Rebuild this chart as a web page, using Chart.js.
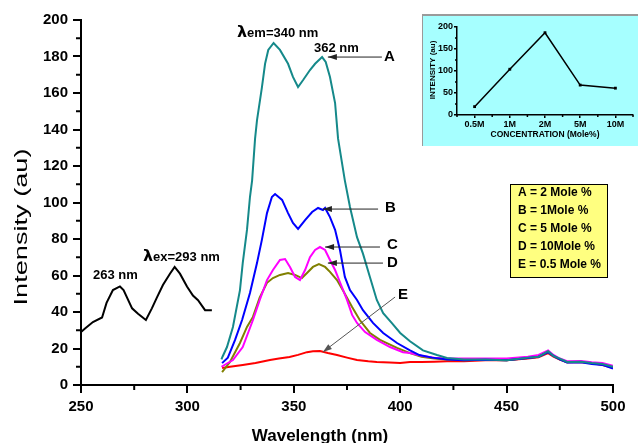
<!DOCTYPE html>
<html>
<head>
<meta charset="utf-8">
<script src="https://cdn.jsdelivr.net/npm/chart.js@4.4.0/dist/chart.umd.min.js"></script>
<style>
  html, body { margin: 0; padding: 0; background: #fff; }
  #wrap { position: relative; width: 638px; height: 443px; overflow: hidden; }
  #main { position: absolute; left: 0; top: 0; }
  #insetBox { position: absolute; left: 422px; top: 14px; width: 216px; height: 130px;
              background: #a6ffff; border-top: 2px solid #9a9a9a; border-left: 1px solid #9a9a9a; }
  #inset { position: absolute; left: 0; top: 0; }
</style>
</head>
<body>
<div id="wrap">
  <canvas id="main" width="638" height="443"></canvas>
  <div id="insetBox"><canvas id="inset" width="216" height="130"></canvas></div>
</div>
<script>
// excitation spectrum (black)
const wlEx  = [250, 251.9, 255.6, 259.9, 262, 265, 268.3, 270, 274, 276.8, 280.5, 283.3, 285.7, 288.5, 291.8, 294, 296.5, 299.8, 302.6, 305, 308.3, 311.5]
const intEx = [29, 31, 34.5, 37, 45, 52, 54, 52, 42, 39, 35.6, 42, 48, 54.8, 61, 64.7, 61, 54, 49, 46.5, 41, 41]

// emission A = 2 Mole %
const wlA  = [316, 316.5, 318.6, 321.4, 324.7, 326, 328, 329.4, 330.4, 331.8, 332.7, 335, 336.5, 338, 340.5, 343.5, 347.3, 349.6, 352, 354.3, 357.6, 360, 363.3, 365, 367, 369.4, 370.8, 374, 376.4, 379.7, 382.5, 385.8, 389, 392, 396, 400, 404.6, 410.7, 417.3, 422, 430, 440, 450, 460, 465, 469.5, 472, 475, 478.4, 485, 490, 495, 500]
const intA = [14, 15.5, 20.8, 31.8, 52, 66.8, 85, 103, 112, 135, 145, 163, 176, 183.6, 187.4, 183.6, 176, 168.8, 163.3, 167, 172.6, 176, 179.7, 177, 168.8, 154.5, 135, 112, 97.5, 81, 72, 59, 46.6, 39.4, 34, 28.5, 24, 19, 16.4, 14.8, 14, 14, 13.5, 15, 15.5, 18.5, 16, 14.5, 12.6, 12.8, 12, 11.5, 10]

// emission B = 1 Mole %
const wlB  = [316.3, 319, 322.4, 325.7, 329.4, 332.7, 335, 337.4, 339.7, 341.2, 344.5, 347.3, 349.6, 352, 355.3, 358.6, 361.4, 363.7, 364.7, 367, 369.4, 371.7, 374, 376.4, 379.7, 382.5, 387.2, 392, 398.5, 404.6, 409, 415, 422, 430, 440, 450, 460, 465, 469.5, 472, 475, 478.4, 485, 490, 495, 500]
const intB = [12, 15, 24.7, 35.6, 50.4, 66.8, 79.5, 94.2, 103, 104.6, 101.4, 94.2, 88.8, 85.5, 90.4, 94.8, 97, 95.9, 97, 92, 85, 74, 59.2, 52, 46.6, 41, 34, 28.5, 23, 19, 16.4, 15, 14, 13.5, 13.8, 13.5, 14.8, 15.5, 18, 16, 14, 12.3, 12.5, 11.5, 11, 9]

// emission C = 5 Mole %
const wlC  = [316, 321.4, 326, 330.8, 334, 337.4, 340.2, 343.5, 345.9, 348.2, 350.6, 352.9, 355.3, 357.6, 360, 362.3, 364.7, 367, 369.4, 372.6, 375, 377.4, 379.7, 383.5, 389, 395.2, 401.3, 404.6, 410, 416, 422, 430, 440, 450, 460, 465, 469.5, 472, 475, 478.4, 485, 490, 495, 500]
const intC = [10, 13.7, 20.8, 35.6, 46.6, 57.5, 63, 68.5, 69, 64.7, 59.2, 57.5, 63, 70, 74, 75.6, 74, 68.5, 63, 53.7, 46.6, 38.4, 34, 29, 24.7, 20.8, 18, 17.5, 16, 15, 14.5, 14.5, 14.5, 14.5, 15.5, 16.5, 19, 16.5, 14.5, 13, 13.2, 12.5, 12, 10.5]

// emission D = 10 Mole %
const wlD  = [316.3, 320, 324.7, 328, 330.8, 334, 337.4, 340.2, 343.5, 347.3, 350.6, 353.8, 356.2, 359, 361.8, 364.7, 367, 370.3, 373, 377.4, 381, 385.8, 390.5, 398.5, 404.6, 410, 416, 422, 430, 440, 450, 460, 465, 469.5, 472, 475, 478.4, 485, 490, 495, 500]
const intD = [7, 12.6, 23, 31.8, 37.3, 48, 56, 58.6, 60.3, 61.4, 60.3, 58.6, 61.4, 64.7, 66.3, 64.7, 62, 57.5, 52, 42.7, 35.6, 28.5, 24.7, 20.3, 17.5, 15.5, 14.5, 14, 13.5, 13.8, 13.5, 14.8, 15.5, 18, 16, 14, 12.5, 12.8, 12, 11.5, 10]

// emission E = 0.5 Mole %
const wlE  = [316.3, 320, 326, 332, 338.8, 343, 348, 352, 356.2, 359, 362.3, 366, 370.3, 375, 379.7, 385, 389, 395, 400, 404.6, 410, 416, 422, 430, 440, 450, 460, 465, 469.5, 472, 475, 478.4, 485, 490, 495, 500]
const intE = [9.3, 10, 11, 12, 13.7, 14.5, 15.3, 16.5, 18, 18.5, 18.6, 17.5, 16.4, 15, 13.7, 13, 12.6, 12.3, 12, 12.6, 12.6, 12.8, 13, 13, 13.5, 13.5, 14.5, 15.2, 17.5, 15.5, 14, 12.5, 12.5, 12, 11, 9.5]

// tick labels
const xTicks = [250, 300, 350, 400, 450, 500]
const yTicks = [0, 20, 40, 60, 80, 100, 120, 140, 160, 180, 200]

// annotations (data coords)
const noteText = ['em=340 nm', '362 nm', 'A', 'ex=293 nm', '263 nm', 'B', 'C', 'D', 'E']
const noteLambda = [true, false, false, true, false, false, false, false, false]
const noteX = [323.3, 359.5, 392.4, 279.1, 255.6, 392.9, 393.8, 393.8, 399]
const noteY = [192.9, 184.7, 179.7, 70.1, 60.3, 97, 76.7, 66.8, 49.3]

const arrowFromX = [391.4, 389.6, 390.5, 391.9, 397.6]
const arrowFromY = [179.7, 96.4, 75.6, 66.8, 48.2]
const arrowToX   = [366, 363.7, 364.7, 366, 363.7]
const arrowToY   = [179.7, 96.4, 75.6, 66.8, 18.1]

const legendLines = ['A = 2 Mole %', 'B = 1Mole %', 'C = 5 Mole %', 'D = 10Mole %', 'E = 0.5 Mole %']

// inset: intensity vs concentration
const conc = ['0.5M', '1M', '2M', '5M', '10M']
const concInt = [19, 104, 187, 68, 61]

const FONT = "'Liberation Sans', Arial, sans-serif"

function pts(xs, ys) {
    return xs.map((v, i) => ({ x: v, y: ys[i] }))
}

const decor = {
    id: 'decor',
    afterDraw(chart) {
        const { ctx, scales: { x, y } } = chart
        ctx.save()
        // minor ticks
        ctx.strokeStyle = '#000'
        ctx.lineWidth = 2
        for (let v = 275; v < 500; v += 50) {
            const px = x.getPixelForValue(v)
            ctx.beginPath(); ctx.moveTo(px, y.bottom); ctx.lineTo(px, y.bottom + 5); ctx.stroke()
        }
        for (let v = 10; v < 200; v += 20) {
            const py = y.getPixelForValue(v)
            ctx.beginPath(); ctx.moveTo(x.left, py); ctx.lineTo(x.left - 5, py); ctx.stroke()
        }

        // arrows
        ctx.lineWidth = 1
        for (let i = 0; i < arrowFromX.length; i++) {
            const x1 = x.getPixelForValue(arrowFromX[i]), y1 = y.getPixelForValue(arrowFromY[i])
            const x2 = x.getPixelForValue(arrowToX[i]), y2 = y.getPixelForValue(arrowToY[i])
            const c = i == 4 ? '#555' : '#222'
            ctx.strokeStyle = c; ctx.fillStyle = c
            ctx.beginPath(); ctx.moveTo(x1, y1); ctx.lineTo(x2, y2); ctx.stroke()
            const a = Math.atan2(y2 - y1, x2 - x1)
            ctx.beginPath()
            ctx.moveTo(x2, y2)
            ctx.lineTo(x2 - 9 * Math.cos(a) + 3 * Math.sin(a), y2 - 9 * Math.sin(a) - 3 * Math.cos(a))
            ctx.lineTo(x2 - 9 * Math.cos(a) - 3 * Math.sin(a), y2 - 9 * Math.sin(a) + 3 * Math.cos(a))
            ctx.closePath(); ctx.fill()
        }

        // notes
        ctx.fillStyle = '#000'
        ctx.textBaseline = 'middle'
        ctx.textAlign = 'left'
        for (let i = 0; i < noteText.length; i++) {
            let px = x.getPixelForValue(noteX[i]), py = y.getPixelForValue(noteY[i])
            if (noteLambda[i]) {
                ctx.font = "bold 16px 'DejaVu Sans', sans-serif"
                ctx.fillText('λ', px, py)
                px += ctx.measureText('λ').width
            }
            const big = noteText[i].length == 1
            ctx.font = (big ? 'bold 15px ' : 'bold 13px ') + FONT
            ctx.fillText(noteText[i], px, py)
        }

        // legend box
        ctx.fillStyle = '#ffff80'
        ctx.fillRect(510, 184, 97, 93)
        ctx.strokeStyle = '#000'
        ctx.lineWidth = 1
        ctx.strokeRect(510.5, 184.5, 97, 93)
        ctx.fillStyle = '#000'
        ctx.font = 'bold 12px ' + FONT
        legendLines.forEach((t, i) => ctx.fillText(t, 518, 193 + i * 18))

        // axis titles
        ctx.textAlign = 'center'
        ctx.font = 'bold 17px ' + FONT
        ctx.fillText('Wavelength (nm)', 320, 436)
        ctx.save()
        ctx.translate(22, 227)
        ctx.rotate(-Math.PI / 2)
        ctx.font = '19px ' + FONT
        const w = ctx.measureText('Intensity (au)').width
        ctx.scale(157 / w, 1)
        ctx.fillText('Intensity (au)', 0, 0)
        ctx.restore()
        ctx.restore()
    }
}

new Chart(document.getElementById('main'), {
    type: 'line',
    data: {
        datasets: [
            { data: pts(wlEx, intEx), borderColor: '#000000' },
            { data: pts(wlA, intA), borderColor: '#15898a' },
            { data: pts(wlB, intB), borderColor: '#0000ff' },
            { data: pts(wlC, intC), borderColor: '#ff00ff' },
            { data: pts(wlD, intD), borderColor: '#808000' },
            { data: pts(wlE, intE), borderColor: '#ff0000' }
        ]
    },
    options: {
        responsive: false,
        animation: false,
        events: [],
        layout: { padding: { top: 20, right: 25, left: 0, bottom: 0 } },
        elements: {
            line: { borderWidth: 2, tension: 0 },
            point: { radius: 0 }
        },
        plugins: { legend: { display: false }, tooltip: { enabled: false } },
        scales: {
            x: {
                type: 'linear', min: 250, max: 500,
                afterFit: (s) => { s.height = 58 },
                afterBuildTicks: (s) => { s.ticks = xTicks.map(v => ({ value: v })) },
                ticks: { color: '#000', font: { family: FONT, size: 15, weight: 'bold' }, padding: 5 },
                grid: { drawOnChartArea: false, drawTicks: true, tickLength: 8, color: '#000', lineWidth: 2 },
                border: { display: true, color: '#000', width: 2 }
            },
            y: {
                min: 0, max: 200,
                afterFit: (s) => { s.width = 81 },
                afterBuildTicks: (s) => { s.ticks = yTicks.map(v => ({ value: v })) },
                ticks: { color: '#000', font: { family: FONT, size: 15, weight: 'bold' }, padding: 5 },
                grid: { drawOnChartArea: false, drawTicks: true, tickLength: 8, color: '#000', lineWidth: 2 },
                border: { display: true, color: '#000', width: 2 }
            }
        }
    },
    plugins: [decor]
})

const insetDecor = {
    id: 'insetDecor',
    afterDraw(chart) {
        const { ctx, scales: { x, y } } = chart
        ctx.save()
        ctx.strokeStyle = '#000'
        ctx.lineWidth = 1.5
        for (let i = 0; i <= conc.length; i++) {
            const px = x.getPixelForValue(i - 0.5)
            ctx.beginPath(); ctx.moveTo(px, y.bottom); ctx.lineTo(px, y.bottom + 2); ctx.stroke()
        }
        for (let v = 25; v < 200; v += 50) {
            const py = y.getPixelForValue(v)
            ctx.beginPath(); ctx.moveTo(x.left, py); ctx.lineTo(x.left - 2, py); ctx.stroke()
        }
        ctx.fillStyle = '#000'
        ctx.textAlign = 'center'
        ctx.textBaseline = 'middle'
        ctx.font = 'bold 8.5px ' + FONT
        ctx.fillText('CONCENTRATION (Mole%)', 122, 119)
        ctx.translate(10, 54)
        ctx.rotate(-Math.PI / 2)
        ctx.font = 'bold 8px ' + FONT
        ctx.fillText('INTENSITY (au)', 0, 0)
        ctx.restore()
    }
}

new Chart(document.getElementById('inset'), {
    type: 'line',
    data: {
        labels: conc,
        datasets: [{
            data: concInt, borderColor: '#000', borderWidth: 1.5,
            pointStyle: 'rect', pointRadius: 2, pointBackgroundColor: '#000', pointBorderWidth: 0
        }]
    },
    options: {
        responsive: false,
        animation: false,
        events: [],
        layout: { padding: { top: 11, right: 6, left: 0, bottom: 0 } },
        plugins: { legend: { display: false }, tooltip: { enabled: false } },
        scales: {
            x: {
                offset: true,
                afterFit: (s) => { s.height = 31 },
                ticks: { color: '#000', font: { family: FONT, size: 9, weight: 'bold' }, padding: 1, maxRotation: 0 },
                grid: { offset: false, drawOnChartArea: false, drawTicks: true, tickLength: 3, color: '#000', lineWidth: 1.5 },
                border: { display: true, color: '#000', width: 1.5 }
            },
            y: {
                min: 0, max: 200,
                afterFit: (s) => { s.width = 34 },
                ticks: { stepSize: 50, color: '#000', font: { family: FONT, size: 9, weight: 'bold' }, padding: 1 },
                grid: { drawOnChartArea: false, drawTicks: true, tickLength: 3, color: '#000', lineWidth: 1.5 },
                border: { display: true, color: '#000', width: 1.5 }
            }
        }
    },
    plugins: [insetDecor]
})
</script>
</body>
</html>
